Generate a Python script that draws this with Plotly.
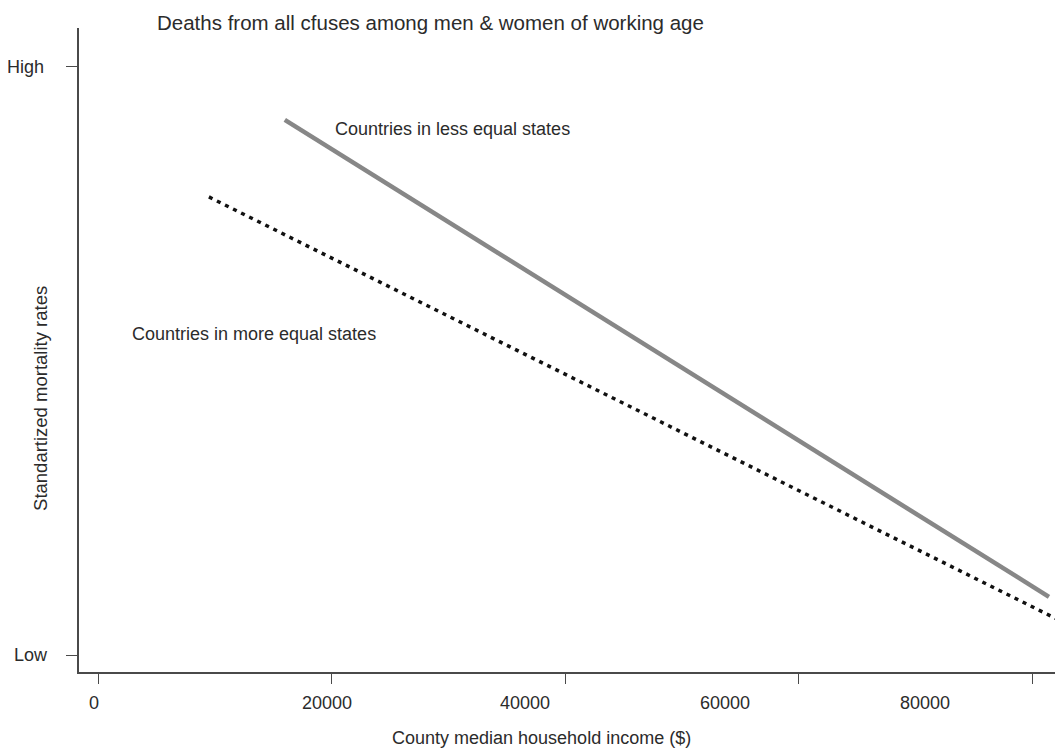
import plotly.graph_objects as go

# ---- data ----
income_less_equal = [16000, 81450]          # County median household income ($)
mortality_less_equal = [0.910, 0.099]       # relative: Low = 0, High = 1
income_more_equal = [9500, 82650]
mortality_more_equal = [0.779, 0.056]

x_tick_vals = [0, 20000, 40000, 60000, 80000]
x_tick_label_pos = [-380, 19600, 36600, 53700, 70800]   # labels sit offset from their ticks
x_tick_text = ["0", "20000", "40000", "60000", "80000"]
y_tick_vals = [0, 1]
y_tick_text = ["Low", "High"]

x_range = [-1627, 82652]
y_range = [-0.0289, 1.0663]

FONT = "Liberation Sans, Arial, Helvetica, sans-serif"
TXT = "#2b2b2b"
AX = "#4a4a4a"

fig = go.Figure()
fig.add_trace(go.Scatter(
    x=income_less_equal, y=mortality_less_equal, mode="lines",
    line=dict(color="#878787", width=4.5), showlegend=False, hoverinfo="skip"))
fig.add_trace(go.Scatter(
    x=income_more_equal, y=mortality_more_equal, mode="lines",
    line=dict(color="#111111", width=3.5, dash="4px,5px"), showlegend=False, hoverinfo="skip"))

ann = []
# x tick labels
for pos, txt in zip(x_tick_label_pos, x_tick_text):
    ann.append(dict(x=pos, y=-0.0481, xref="x", yref="paper", text=txt, showarrow=False,
                    xanchor="center", yanchor="middle", font=dict(size=18, color=TXT, family=FONT)))
# y tick labels
y_label_right = {"Low": -0.0295, "High": -0.0335}
for v, txt in zip(y_tick_vals, y_tick_text):
    ann.append(dict(x=y_label_right[txt], y=v, xref="paper", yref="y", text=txt, showarrow=False,
                    xanchor="right", yanchor="middle", font=dict(size=18, color=TXT, family=FONT)))
# axis titles
ann.append(dict(x=0.4705, y=-0.1025, xref="paper", yref="paper", text="County median household income ($)",
                showarrow=False, xanchor="center", yanchor="middle", font=dict(size=18, color=TXT, family=FONT)))
ann.append(dict(x=-0.0386, y=0.424, xref="paper", yref="paper", text="Standartized mortality rates",
                textangle=-90, showarrow=False, xanchor="center", yanchor="middle",
                font=dict(size=18.5, color=TXT, family=FONT)))
# title
ann.append(dict(x=0.0772, y=1.0078, xref="paper", yref="paper",
                text="Deaths from all cfuses among men & women of working age",
                showarrow=False, xanchor="left", yanchor="middle", font=dict(size=20.5, color=TXT, family=FONT)))
# line labels
ann.append(dict(x=20100, y=0.8946, xref="x", yref="y", text="Countries in less equal states",
                showarrow=False, xanchor="left", yanchor="middle", font=dict(size=18, color=TXT, family=FONT)))
ann.append(dict(x=2700, y=0.546, xref="x", yref="y", text="Countries in more equal states",
                showarrow=False, xanchor="left", yanchor="middle", font=dict(size=18, color=TXT, family=FONT)))

# the page body adds an 8px offset, so the figure is sized/margined to land the plot area
# exactly where the reference has it within the 1063x749 window
fig.update_layout(
    width=1055, height=741,
    margin=dict(l=71, r=0, t=20, b=77),
    paper_bgcolor="white", plot_bgcolor="white",
    annotations=ann,
    xaxis=dict(range=x_range, tickvals=x_tick_vals, showticklabels=False,
               ticks="outside", ticklen=10, tickwidth=1.3, tickcolor=AX,
               showline=True, linecolor=AX, linewidth=1.5, showgrid=False, zeroline=False,
               automargin=False, fixedrange=True),
    yaxis=dict(range=y_range, tickvals=y_tick_vals, showticklabels=False,
               ticks="outside", ticklen=11, tickwidth=1.3, tickcolor=AX,
               showline=True, linecolor=AX, linewidth=1.5, showgrid=False, zeroline=False,
               automargin=False, fixedrange=True),
)

fig.write_html("out.html")
